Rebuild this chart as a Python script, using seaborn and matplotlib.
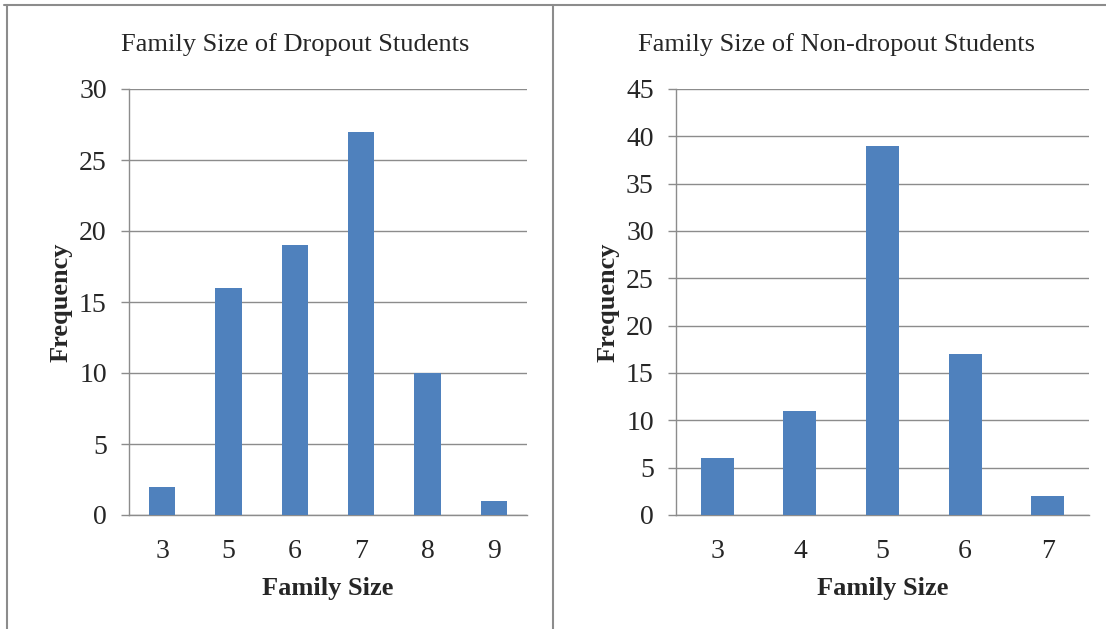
import pandas as pd
import matplotlib.pyplot as plt
import seaborn as sns
from matplotlib.lines import Line2D

# --- Data ---
dropout_sizes = ['3', '5', '6', '7', '8', '9']
dropout_freq = [2, 16, 19, 27, 10, 1]
nondrop_sizes = ['3', '4', '5', '6', '7']
nondrop_freq = [6, 11, 39, 17, 2]

BAR_COLOR = '#4F81BD'
GRID_COLOR = '#8C8C8C'

sns.set_theme(style="white")
plt.rcParams['font.family'] = ['Liberation Serif', 'DejaVu Serif']

fig = plt.figure(figsize=(11.06, 6.29), dpi=100)

panels = [
    # axes rect (pixels -> fraction), data, ymax, step, title x, title
    ([129 / 1106, 1 - 515 / 629, 398 / 1106, 426 / 629], dropout_sizes, dropout_freq,
     30, 5, 295, 'Family Size of Dropout Students'),
    ([676 / 1106, 1 - 515 / 629, 413 / 1106, 426 / 629], nondrop_sizes, nondrop_freq,
     45, 5, 836, 'Family Size of Non-dropout Students'),
]

for rect, sizes, freq, ymax, step, tx, title in panels:
    ax = fig.add_axes(rect)
    df = pd.DataFrame({'Family Size': sizes, 'Frequency': freq})
    sns.barplot(data=df, x='Family Size', y='Frequency', order=sizes,
                color=BAR_COLOR, saturation=1, width=0.4, linewidth=0,
                ax=ax, zorder=3)
    ax.set_ylim(0, ymax)
    ax.set_yticks(range(0, ymax + 1, step))
    ax.set_xlim(-0.5, len(sizes) - 0.5)
    ax.yaxis.grid(True, color=GRID_COLOR, linewidth=1)
    ax.set_axisbelow(True)
    for s in ['top', 'right']:
        ax.spines[s].set_visible(False)
    for s in ['left', 'bottom']:
        ax.spines[s].set_color(GRID_COLOR)
        ax.spines[s].set_linewidth(1)
    ax.tick_params(axis='y', which='major', left=True, length=6, width=1,
                   color=GRID_COLOR, labelsize=20, pad=10)
    ax.tick_params(axis='x', bottom=False, labelsize=20, pad=11)
    ax.set_xlabel('Family Size', fontsize=19, fontweight='bold', labelpad=10)
    ax.set_ylabel('Frequency', fontsize=19, fontweight='bold', labelpad=5)
    fig.text(tx / 1106, 1 - 45 / 629, title, ha='center', va='center', fontsize=19)

# panel borders
border = '#8C8C8C'
fig.add_artist(Line2D([4 / 1106, 1], [1 - 5 / 629] * 2, color=border, lw=1.5))
fig.add_artist(Line2D([7 / 1106] * 2, [0, 1 - 5 / 629], color=border, lw=1.5))
fig.add_artist(Line2D([553 / 1106] * 2, [0, 1 - 5 / 629], color=border, lw=1.5))

fig.savefig('out.png', dpi=100)
